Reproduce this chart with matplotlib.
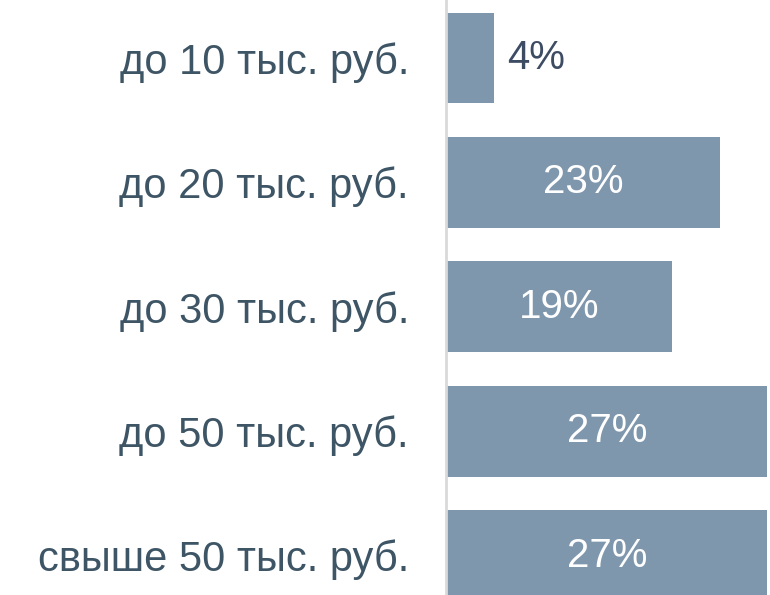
import matplotlib
matplotlib.use("Agg")
import matplotlib.pyplot as plt

# data
categories = ["до 10 тыс. руб.", "до 20 тыс. руб.", "до 30 тыс. руб.",
              "до 50 тыс. руб.", "свыше 50 тыс. руб."]
shares = [4, 23, 19, 27, 27]

BAR = "#7f97ad"
TEXT = "#3e5566"

plt.rcParams["font.family"] = ["Liberation Sans", "DejaVu Sans"]

fig = plt.figure(figsize=(7.7, 5.95), dpi=100)
ax = fig.add_axes([447 / 770, 0, 323 / 770, 1])

ypos = list(range(len(categories)))
ax.barh(ypos, shares, height=0.73, color=BAR, zorder=2)

ax.set_xlim(0, 27 * 323 / 320)
ax.set_ylim(4.317, -0.466)

for y, v in zip(ypos, shares):
    if v < 8:
        ax.text(v + 1.1, y, f"{v}%", ha="left", va="center",
                fontsize=29, color="#3d4b63")
    else:
        ax.text(v / 2, y, f"{v}%", ha="center", va="center",
                fontsize=29, color="white")

ax.set_yticks(ypos)
ax.set_yticklabels(categories)
ax.tick_params(axis="y", length=0, pad=27, labelsize=30, labelcolor=TEXT)
ax.set_xticks([])

for s in ["top", "right", "bottom"]:
    ax.spines[s].set_visible(False)
ax.spines["left"].set_color("#d9d9d9")
ax.spines["left"].set_linewidth(2)
ax.spines["left"].set_position(("data", -0.05))

fig.savefig("out.png", dpi=100)
